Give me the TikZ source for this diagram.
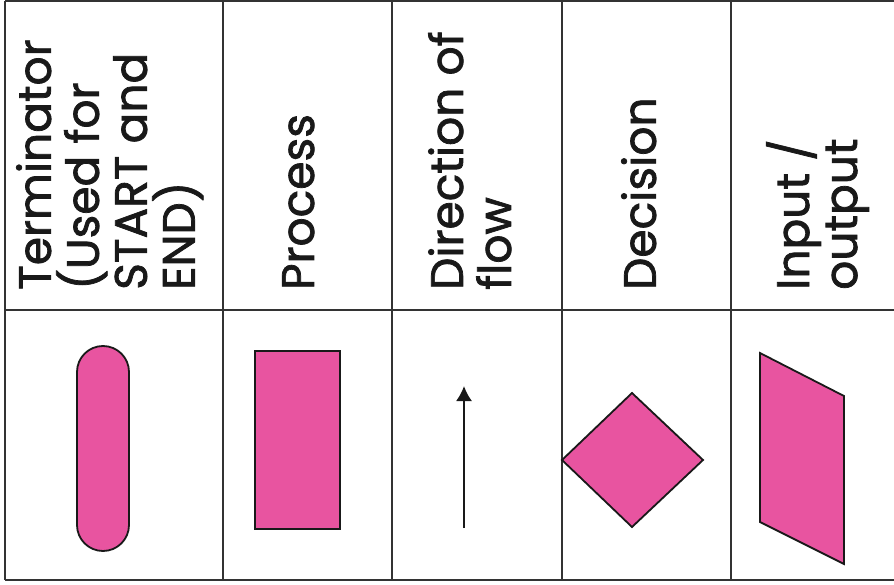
\documentclass[tikz,border=0pt]{standalone}
\usepackage{fontspec}
\setmainfont{Poppins}[FakeBold=1.6,AutoFakeBold=1.6]
\usetikzlibrary{arrows.meta}
\begin{document}
\begin{tikzpicture}[x=1pt,y=-1pt,
  grid/.style={draw=black!80,line width=1.3pt},
  symbol/.style={draw=black!90,line width=1.8pt,fill=shapepink},
  head/.style={rotate=90,anchor=north west,align=left,inner sep=0pt,
    font=\fontsize{45.5}{48}\bfseries,text=black!90}]
\definecolor{shapepink}{RGB}{232,84,160}
\useasboundingbox (0,0) rectangle (894,585);
\fill[white] (0,0) rectangle (894,585);
% table rules
\draw[grid] (5,1) -- (894,1);
\draw[grid] (5,310) -- (894,310);
\draw[grid] (5,580) -- (894,580);
\foreach \x in {5,223,392,562,731}
  \draw[grid] (\x,1) -- (\x,580);
% column headings
\node[head] (hterm) at (16,290) {Terminator\\(Used for\\START and\\END)};
\node[head] (hproc) at (282,290) {Process};
\node[head] (hdir) at (428,290) {Direction of\\flow};
\node[head] (hdec) at (621,290) {Decision};
\node[head] (hio) at (766,290) {Input /\\output};
% terminator
\draw[symbol,rounded corners=26pt] (77,346) rectangle (129,551);
% process
\draw[symbol] (255,351) rectangle (340,529);
% direction of flow
\coordinate (flowtail) at (464,528);
\coordinate (flowhead) at (464,386);
\draw[black!90,line width=1.8pt,-{Latex[length=15pt,width=16pt]}] (flowtail) -- (flowhead);
% decision
\draw[symbol] (562,460) -- (632,393) -- (703,460) -- (632,527) -- cycle;
% input / output
\draw[symbol] (760,353) -- (844,396) -- (844,564) -- (760,522) -- cycle;
\end{tikzpicture}
\end{document}
